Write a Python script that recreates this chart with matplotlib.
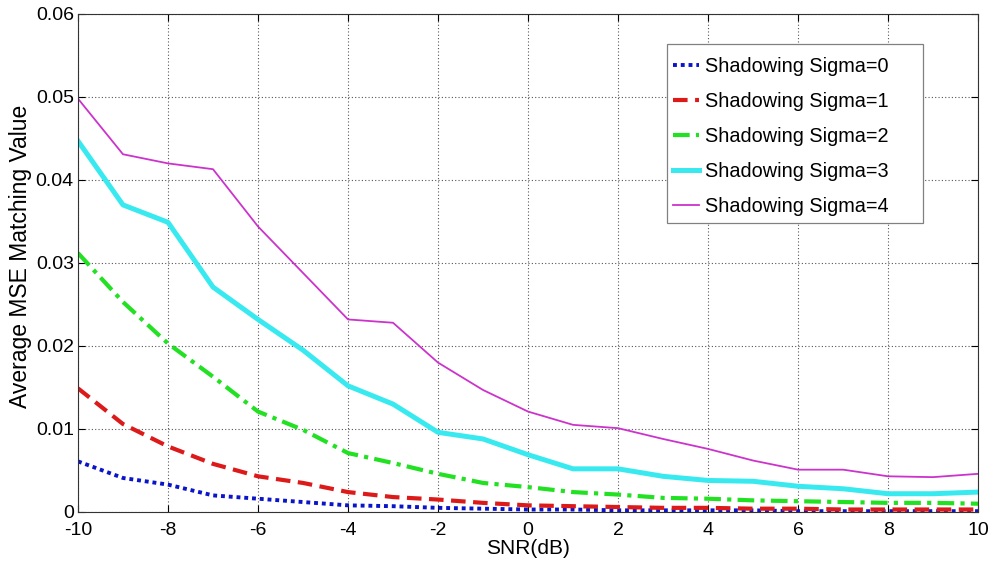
import matplotlib
matplotlib.use("Agg")
import matplotlib.pyplot as plt
from matplotlib.ticker import FuncFormatter
from matplotlib.patches import Rectangle

plt.rcParams['font.family'] = ['Liberation Sans', 'DejaVu Sans']
plt.rcParams['axes.unicode_minus'] = False

snr = list(range(-10, 11))
sigma0 = [0.0061, 0.0041, 0.0033, 0.0020, 0.0016, 0.0012, 0.0008, 0.0007, 0.0005, 0.0004, 0.0003,
          0.0003, 0.0002, 0.0002, 0.0002, 0.0002, 0.0001, 0.0001, 0.0001, 0.0001, 0.0001]
sigma1 = [0.0149, 0.0106, 0.0079, 0.0058, 0.0043, 0.0035, 0.0024, 0.0018, 0.0015, 0.0011, 0.0008,
          0.0007, 0.0006, 0.0005, 0.0005, 0.0004, 0.0004, 0.0003, 0.0003, 0.0003, 0.0003]
sigma2 = [0.0312, 0.0253, 0.0203, 0.0163, 0.0121, 0.0099, 0.0071, 0.0059, 0.0046, 0.0035, 0.0030,
          0.0024, 0.0021, 0.0017, 0.0016, 0.0014, 0.0013, 0.0012, 0.0011, 0.0011, 0.0010]
sigma3 = [0.0447, 0.0370, 0.0349, 0.0271, 0.0232, 0.0195, 0.0152, 0.0130, 0.0096, 0.0088, 0.0069,
          0.0052, 0.0052, 0.0043, 0.0038, 0.0037, 0.0031, 0.0028, 0.0022, 0.0022, 0.0024]
sigma4 = [0.0498, 0.0431, 0.0420, 0.0413, 0.0344, 0.0288, 0.0232, 0.0228, 0.0180, 0.0147, 0.0121,
          0.0105, 0.0101, 0.0088, 0.0076, 0.0062, 0.0051, 0.0051, 0.0043, 0.0042, 0.0046]
labels = ['Shadowing Sigma=0', 'Shadowing Sigma=1', 'Shadowing Sigma=2',
          'Shadowing Sigma=3', 'Shadowing Sigma=4']

fig = plt.figure(figsize=(9.92, 5.64), dpi=100)
ax = fig.add_axes([0.0786, 0.0922, 0.9074, 0.883])

ax.plot(snr, sigma0, color='#0a14c8', linestyle=(0, (1, 1)), lw=2.8, label=labels[0])
ax.plot(snr, sigma1, color='#dd1a1a', linestyle=(0, (3.5, 1.8)), lw=3.0, label=labels[1])
ax.plot(snr, sigma2, color='#22e022', linestyle=(0, (4, 1.5, 1, 1.5)), lw=3.0, label=labels[2])
ax.plot(snr, sigma3, color='#38eaf0', linestyle='-', lw=3.6, label=labels[3])
ax.plot(snr, sigma4, color='#cc33cc', linestyle='-', lw=1.3, label=labels[4])

ax.set_xlim(-10, 10)
ax.set_ylim(0, 0.06)
ax.set_xticks(range(-10, 11, 2))
ax.set_yticks([0, 0.01, 0.02, 0.03, 0.04, 0.05, 0.06])
ax.yaxis.set_major_formatter(FuncFormatter(lambda v, p: '0' if abs(v) < 1e-12 else ('%.2f' % v)))
ax.grid(True, color='#555555', linestyle=(0, (1, 2)), lw=0.8)
ax.tick_params(direction='in', labelsize=14, length=5, width=0.8, top=True, right=True)
ax.tick_params(axis='x', pad=7)
ax.tick_params(axis='y', pad=3)
for s in ax.spines.values():
    s.set_color('#333333')
    s.set_linewidth(0.8)

ax.set_xlabel('SNR(dB)', fontsize=15, labelpad=0)
ax.set_ylabel('Average MSE Matching Value', fontsize=16.5)
ax.yaxis.set_label_coords(-0.0516, 0.514)

# legend box (MATLAB-style, with wide right padding)
box = Rectangle((0.6544, 0.5803), 0.2845, 0.3594, transform=ax.transAxes,
                facecolor='white', edgecolor='#808080', lw=0.9, zorder=4.5)
ax.add_patch(box)
leg = ax.legend(loc='upper left', bbox_to_anchor=(0.661, 0.913), fontsize=14.3,
                frameon=False, handlelength=1.3, handletextpad=0.3,
                labelspacing=0.8, borderpad=0, borderaxespad=0)
leg.set_zorder(5)

fig.savefig('out.png', dpi=100)
